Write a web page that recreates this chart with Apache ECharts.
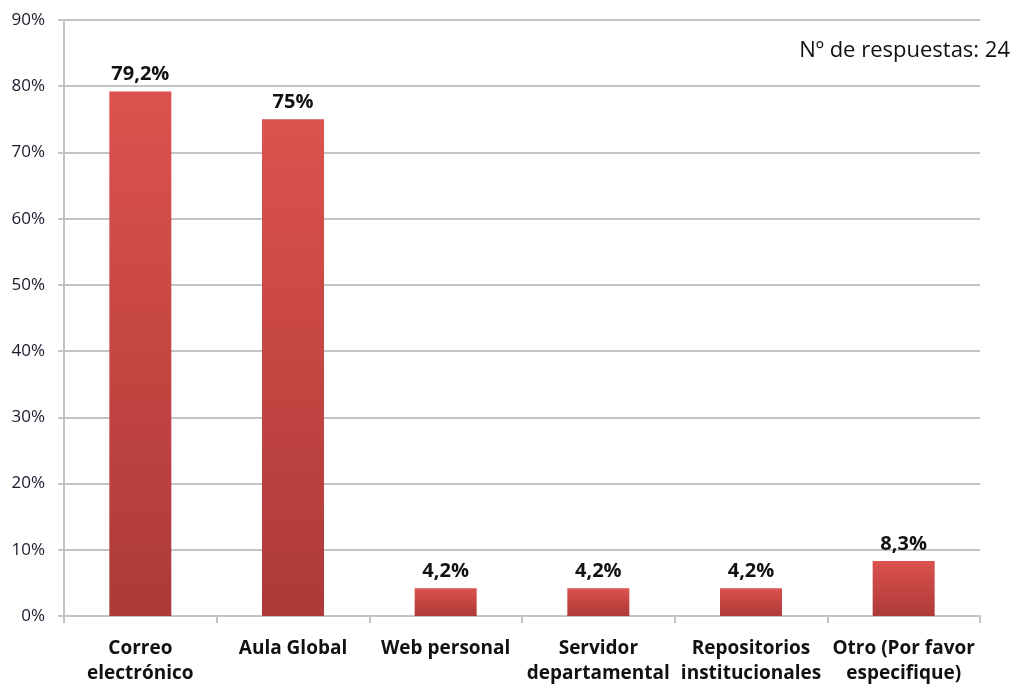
<!DOCTYPE html>
<html>
<head>
<meta charset="utf-8">
<script src="https://cdn.jsdelivr.net/npm/echarts@6/dist/echarts.min.js"></script>
<style>html,body{margin:0;padding:0;background:#fff}#c{width:1013px;height:686px}</style>
</head>
<body>
<div id="c"></div>
<script>
const categories = ['Correo\nelectrónico', 'Aula Global', 'Web personal', 'Servidor\ndepartamental', 'Repositorios\ninstitucionales', 'Otro (Por favor\nespecifique)'];
const values = [79.2, 75, 4.2, 4.2, 4.2, 8.3];
const yTicks = [0, 10, 20, 30, 40, 50, 60, 70, 80, 90];
const note = 'Nº de respuestas: 24';

const chart = echarts.init(document.getElementById('c'));
chart.setOption({
  animation: false,
  grid: { left: 64, right: 33, top: 20, bottom: 67 },
  graphic: [{
    type: 'text', right: 3, top: 40,
    style: { text: note, font: '22px "Open Sans", sans-serif', fill: '#111' }
  }],
  xAxis: {
    type: 'category',
    data: categories,
    axisLine: { lineStyle: { color: '#c4c4c4', width: 2 } },
    axisTick: { show: true, length: 7, lineStyle: { color: '#c4c4c4', width: 2 } },
    axisLabel: { interval: 0, margin: 20, fontFamily: 'Open Sans', fontWeight: 'bold', fontSize: 19, color: '#111', lineHeight: 25 }
  },
  yAxis: {
    type: 'value', min: yTicks[0], max: yTicks[yTicks.length - 1], interval: 10,
    axisLine: { show: true, lineStyle: { color: '#c4c4c4', width: 2 } },
    axisTick: { show: true, length: 6, lineStyle: { color: '#c4c4c4', width: 2 } },
    splitLine: { lineStyle: { color: '#c4c4c4', width: 2 } },
    axisLabel: { margin: 19, fontFamily: 'Open Sans', fontSize: 17, color: '#1a1a2e', formatter: v => v + '%' }
  },
  series: [{
    type: 'bar',
    data: values,
    barWidth: 62,
    itemStyle: {
      color: new echarts.graphic.LinearGradient(0, 0, 0, 1, [
        { offset: 0, color: '#dc524e' },
        { offset: 1, color: '#ad3a38' }
      ])
    },
    label: {
      show: true, position: 'top', distance: 7,
      fontFamily: 'Open Sans', fontWeight: 'bold', fontSize: 20, color: '#111',
      formatter: p => String(p.value).replace('.', ',') + '%'
    }
  }]
});
</script>
</body>
</html>
